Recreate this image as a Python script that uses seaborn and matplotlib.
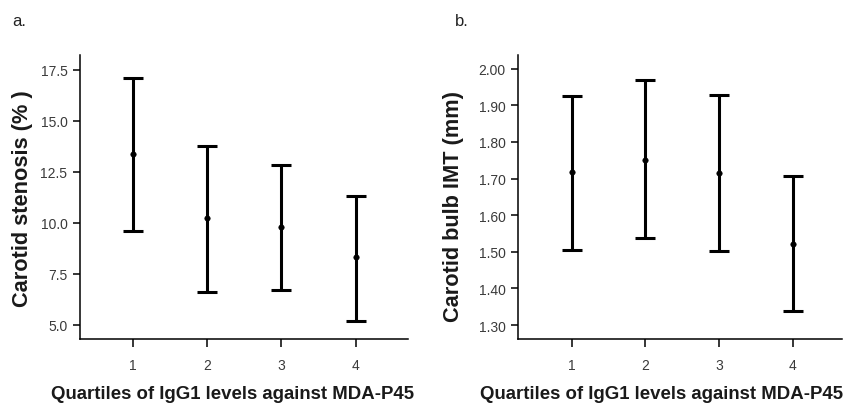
import numpy as np
import pandas as pd
import matplotlib
matplotlib.use("Agg")
import matplotlib.pyplot as plt
import seaborn as sns

# quartile groups
quartiles = [1, 2, 3, 4]

# panel a: carotid stenosis (%) - mean and CI bounds
stenosis_mean = [13.4, 10.22, 9.82, 8.33]
stenosis_low = [9.58, 6.62, 6.72, 5.17]
stenosis_high = [17.1, 13.77, 12.86, 11.32]

# panel b: carotid bulb IMT (mm)
imt_mean = [1.717, 1.752, 1.716, 1.522]
imt_low = [1.506, 1.537, 1.503, 1.338]
imt_high = [1.925, 1.970, 1.929, 1.707]

a_ticks = [5.0, 7.5, 10.0, 12.5, 15.0, 17.5]
b_ticks = [1.30, 1.40, 1.50, 1.60, 1.70, 1.80, 1.90, 2.00]

sns.set_style("ticks")
plt.rcParams['font.family'] = ['Liberation Sans', 'DejaVu Sans']

fig = plt.figure(figsize=(8.5, 4.06), dpi=100)
ax1 = fig.add_axes([0.0941, 0.1626, 0.386, 0.699])
ax2 = fig.add_axes([0.6098, 0.1626, 0.381, 0.699])


def draw_panel(ax, mean, low, high, ticks, fmt, ylim, xlim, ylabel, ylab_xy, xlab_x):
    df = pd.DataFrame({'q': quartiles, 'mean': mean, 'low': low, 'high': high})
    yerr = np.array([df['mean'] - df['low'], df['high'] - df['mean']])
    ax.errorbar(df['q'], df['mean'], yerr=yerr, fmt='none', ecolor='black',
                elinewidth=2.2, capsize=7, capthick=2.2)
    sns.scatterplot(data=df, x='q', y='mean', ax=ax, color='black', s=16,
                    edgecolor='black', zorder=3, legend=False)
    ax.set_xlim(*xlim)
    ax.set_ylim(*ylim)
    ax.set_xticks(quartiles)
    ax.set_yticks(ticks)
    ax.set_yticklabels([fmt.format(t) for t in ticks])
    sns.despine(ax=ax)
    for s in ['left', 'bottom']:
        ax.spines[s].set_linewidth(1.1)
        ax.spines[s].set_color('black')
    ax.tick_params(axis='both', direction='out', length=5, width=1.1,
                   color='black', labelsize=10, labelcolor='#3a3a3a', pad=4)
    ax.tick_params(axis='x', length=6, pad=8)
    ax.set_ylabel(ylabel, fontsize=15.7, fontweight='bold', color='#1a1a1a')
    ax.yaxis.set_label_coords(*ylab_xy)
    ax.set_xlabel('Quartiles of IgG1 levels against MDA-P45', fontsize=13.4,
                  fontweight='bold', color='#1a1a1a')
    ax.xaxis.set_label_coords(xlab_x, -0.163)
    ax.xaxis.label.set_va('top')


draw_panel(ax1, stenosis_mean, stenosis_low, stenosis_high, a_ticks, '{:.1f}',
           (4.31, 18.22), (0.28, 4.71), 'Carotid stenosis (% )', (-0.143, 0.497), 0.466)
draw_panel(ax2, imt_mean, imt_low, imt_high, b_ticks, '{:.2f}',
           (1.262, 2.037), (0.275, 4.67), 'Carotid bulb IMT (mm)', (-0.167, 0.47), 0.441)

fig.text(12 / 850, 1 - 22 / 406, 'a.', fontsize=12, va='center', ha='left', color='#222222')
fig.text(455 / 850, 1 - 22 / 406, 'b.', fontsize=12, va='center', ha='left', color='#222222')

fig.savefig('out.png', dpi=100)
